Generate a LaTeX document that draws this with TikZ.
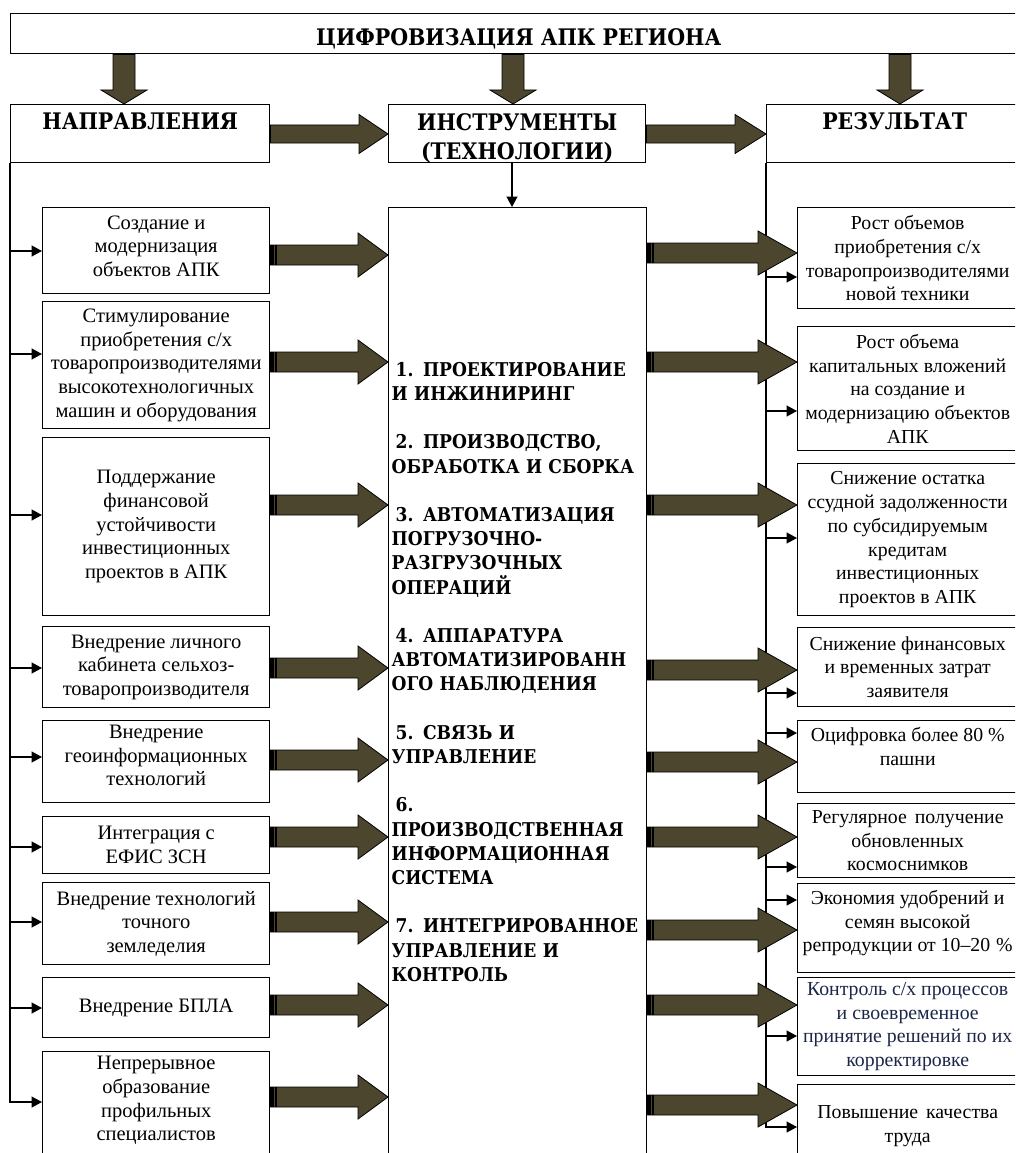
\documentclass[tikz,border=0pt]{standalone}
\usepackage{fontspec}
\setmainfont{Liberation Serif}
\newfontfamily\bfserif{DejaVu Serif Condensed Bold}
\usetikzlibrary{arrows.meta,calc}
\definecolor{arrowfill}{RGB}{76,70,46}
\definecolor{navytext}{RGB}{28,38,72}
% horizontal fat arrow: #1 start, #2 tip, #3 shaft half, #4 head half, #5 head length
\newcommand\fatH[5]{%
  \filldraw[fatarrow] ($(#1)+(0,-#3)$) -- ($(#2)+(-#5,-#3)$) -- ($(#2)+(-#5,-#4)$) -- (#2)
    -- ($(#2)+(-#5,#4)$) -- ($(#2)+(-#5,#3)$) -- ($(#1)+(0,#3)$) -- cycle;}
% vertical fat arrow (downwards)
\newcommand\fatV[5]{%
  \filldraw[fatarrow] ($(#1)+(-#3,0)$) -- ($(#2)+(-#3,-#5)$) -- ($(#2)+(-#4,-#5)$) -- (#2)
    -- ($(#2)+(#4,-#5)$) -- ($(#2)+(#3,-#5)$) -- ($(#1)+(#3,0)$) -- cycle;}
\newcommand\stripes[2]{%
  \fill[black] ($(#1)+(0,-#2)$) rectangle ($(#1)+(3.5,#2)$);
  \fill[black] ($(#1)+(4.5,-#2)$) rectangle ($(#1)+(6.5,#2)$);}
\newcommand\lowd[1]{\rule[-#1pt]{0pt}{0pt}}
\newcommand\hiup[1]{\rule{0pt}{#1pt}}
\begin{document}
\begin{tikzpicture}[x=1pt,y=-1pt,
  bx/.style={draw, line width=1.4pt, inner sep=0pt, anchor=north west, align=center,
    font=\fontsize{20.5}{23.7}\selectfont},
  hd/.style={bx, font=\bfserif\fontsize{22.8}{29}\selectfont},
  lb/.style={bx, minimum width=227pt},
  rb/.style={bx, minimum width=220pt, font=\fontsize{19.8}{23.7}\selectfont},
  fatarrow/.style={fill=arrowfill, draw=black, line width=0.8pt, line join=miter},
  sarrow/.style={line width=1.4pt, -{Triangle[length=10.5pt,width=11pt]}}]

\useasboundingbox (0,0) rectangle (1015,1153);
\clip (0,0) rectangle (1015,1153);
\fill[white] (0,0) rectangle (1015,1153);

% header boxes
\node[hd, minimum width=1016pt, minimum height=40pt, text height=23pt, text depth=0pt,
  font=\bfserif\fontsize{22.8}{29}\selectfont] (T) at (10,13) {ЦИФРОВИЗАЦИЯ АПК РЕГИОНА};
\node[hd, minimum width=259pt, minimum height=58pt, text height=16pt, text depth=24pt] (N) at (10,104) {НАПРАВЛЕНИЯ};
\node[hd, minimum width=257pt, minimum height=58pt] (I) at (388,104) {\hiup{23}ИНСТРУМЕНТЫ\\\smash{(ТЕХНОЛОГИИ)}};
\node[hd, minimum width=256pt, minimum height=58pt, text height=16pt, text depth=24pt] (R) at (766,104) {РЕЗУЛЬТАТ};

% central box
\node[bx, minimum width=258pt, minimum height=960pt, align=left, text width=252pt, inner xsep=3pt,
  font=\bfserif\fontsize{19}{24.2}\selectfont] (C) at (388,207) {%
\mbox{\hspace*{4pt}1. ПРОЕКТИРОВАНИЕ}\\
\mbox{И ИНЖИНИРИНГ}\\[24.2pt]
\mbox{\hspace*{4pt}2. ПРОИЗВОДСТВО,}\\
\mbox{ОБРАБОТКА И СБОРКА}\\[24.2pt]
\mbox{\hspace*{4pt}3. АВТОМАТИЗАЦИЯ}\\
ПОГРУЗОЧНО-\\
РАЗГРУЗОЧНЫХ\\
ОПЕРАЦИЙ\\[24.2pt]
\mbox{\hspace*{4pt}4. АППАРАТУРА}\\
АВТОМАТИЗИРОВАНН\\
\mbox{ОГО НАБЛЮДЕНИЯ}\\[24.2pt]
\mbox{\hspace*{4pt}5. СВЯЗЬ И}\\
УПРАВЛЕНИЕ\\[24.2pt]
\mbox{\hspace*{4pt}6.}\\
ПРОИЗВОДСТВЕННАЯ\\
ИНФОРМАЦИОННАЯ\\
СИСТЕМА\\[24.2pt]
\mbox{\hspace*{4pt}7. ИНТЕГРИРОВАННОЕ}\\
\mbox{УПРАВЛЕНИЕ И}\\
КОНТРОЛЬ\lowd{32}};

% left boxes
\node[lb, minimum height=86pt]  (L1) at (42,207)  {Создание и\\модернизация\\объектов АПК\lowd{9}};
\node[lb, minimum height=127pt] (L2) at (42,301)  {Стимулирование\\приобретения с/х\\товаропроизводителями\\высокотехнологичных\\машин и оборудования};
\node[lb, minimum height=178pt] (L3) at (42,437)  {Поддержание\\финансовой\\устойчивости\\инвестиционных\\проектов в АПК};
\node[lb, minimum height=81pt]  (L4) at (42,626)  {Внедрение личного\\кабинета сельхоз-\\товаропроизводителя};
\node[lb, minimum height=82pt]  (L5) at (42,720)  {Внедрение\\геоинформационных\\технологий\lowd{12.5}};
\node[lb, minimum height=57pt]  (L6) at (42,816)  {Интеграция с\\ЕФИС ЗСН};
\node[lb, minimum height=82pt]  (L7) at (42,882)  {Внедрение технологий\\точного\\земледелия};
\node[lb, minimum height=60pt]  (L8) at (42,977)  {Внедрение БПЛА};
\node[lb, minimum height=120pt] (L9) at (42,1051) {Непрерывное\\образование\\профильных\\специалистов\lowd{26.5}};

% right boxes
\node[rb, minimum height=101pt] (R1) at (797,207)  {Рост объемов\\приобретения с/х\\товаропроизводителями\\новой техники};
\node[rb, minimum height=124pt] (R2) at (797,326)  {Рост объема\\капитальных вложений\\на создание и\\модернизацию объектов\\АПК};
\node[rb, minimum height=152pt] (R3) at (797,463)  {Снижение остатка\\ссудной задолженности\\по субсидируемым\\кредитам\\инвестиционных\\проектов в АПК};
\node[rb, minimum height=79pt]  (R4) at (797,627)  {Снижение финансовых\\и временных затрат\\заявителя};
\node[rb, minimum height=72pt]  (R5) at (797,720)  {Оцифровка более 80 \%\\пашни\lowd{21}};
\node[rb, minimum height=74pt]  (R6) at (797,803)  {Регулярное\hspace{0.4em}получение\\обновленных\\космоснимков};
\node[rb, minimum height=89pt]  (R7) at (797,883)  {Экономия удобрений и\\семян высокой\\репродукции от 10--20\hspace{0.3em}\%\lowd{14.5}};
\node[rb, minimum height=98pt, text=navytext] (R8) at (797,977) {Контроль с/х процессов\\и своевременное\\принятие решений по их\\корректировке};
\node[rb, minimum height=90pt]  (R9) at (797,1084) {Повышение\hspace{0.4em}качества\\труда\lowd{12}};

% thin connectors (left)
\draw[sarrow] (N.south west) |- (L9.west |- 0,1102);
\foreach \i/\y in {1/251,2/354,3/515,4/668,5/757,6/847,7/922,8/1008}
  \draw[sarrow] (N.south west |- 0,\y) -- (L\i.west |- 0,\y);
% thin connectors (right)
\draw[sarrow] (R.south west) |- (R9.west |- 0,1127);
\foreach \i/\y in {1/277,2/411,3/538,4/693,5/733,6/867,7/900,8/1036}
  \draw[sarrow] (R.south west |- 0,\y) -- (R\i.west |- 0,\y);
% middle thin arrow
\draw[sarrow] (I.south -| 512,0) -- (C.north -| 512,0);

% fat arrows from title
\coordinate (d1s) at (T.south -| 124,0); \coordinate (d1t) at (N.north -| 124,0);
\coordinate (d2s) at (T.south -| 513,0); \coordinate (d2t) at (I.north -| 513,0);
\coordinate (d3s) at (T.south -| 900,0); \coordinate (d3t) at (R.north -| 900,0);
\fatV{d1s}{d1t}{11}{23}{14}
\fatV{d2s}{d2t}{11}{23}{14}
\fatV{d3s}{d3t}{11}{23}{14}

% header fat arrows
\coordinate (h1s) at (N.east |- 0,134); \coordinate (h1t) at (I.west |- 0,134);
\coordinate (h2s) at (I.east |- 0,134); \coordinate (h2t) at (R.west |- 0,134);
\fatH{h1s}{h1t}{9}{19.5}{29}
\fatH{h2s}{h2t}{9}{19.5}{31}

% left fat arrows
\foreach \i/\y in {1/255,2/362,3/505,4/668,5/760,6/837,7/922,8/1005,9/1097}{
  \coordinate (ls) at (L\i.east |- 0,\y);
  \coordinate (lt) at (C.west |- 0,\y);
  \fatH{ls}{lt}{10}{22}{30}
  \stripes{ls}{10}
}
% right fat arrows
\foreach \i/\y in {1/253,2/362,3/505,4/670,5/762,6/837,7/930,8/1005,9/1105}{
  \coordinate (rs) at (C.east |- 0,\y);
  \coordinate (rt) at (R\i.west |- 0,\y);
  \fatH{rs}{rt}{10}{22}{39}
  \stripes{rs}{10}
}
\end{tikzpicture}
\end{document}
